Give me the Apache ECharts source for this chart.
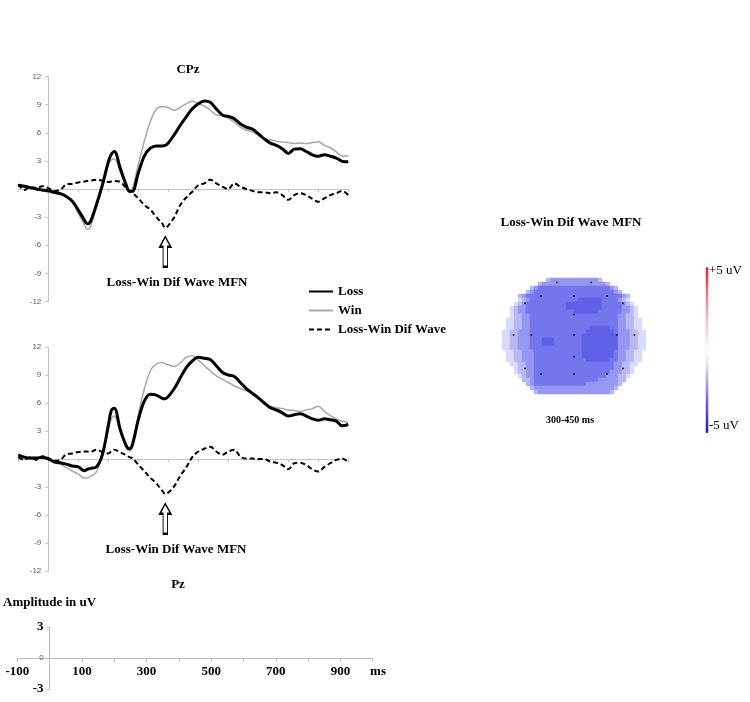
<!DOCTYPE html>
<html>
<head>
<meta charset="utf-8">
<script src="https://cdn.jsdelivr.net/npm/echarts@6/dist/echarts.min.js"></script>
<style>
html,body{margin:0;padding:0;background:#fff;}
#chart{width:750px;height:702px;}
</style>
</head>
<body>
<div id="chart"></div>
<script>
// ---------- data ----------
const timesMs = [-100,-80,-60,-40,-20,0,20,40,60,80,100,120,130,140,160,180,200,210,220,240,260,270,280,300,320,340,360,380,390,400,420,440,460,480,500,520,540,560,580,600,620,640,660,680,700,720,740,760,780,800,820,840,860,880,900,920,940,960,980,1000];

const cpzLoss = [0.4,0.3,0.15,0.0,-0.1,-0.2,-0.35,-0.5,-0.8,-1.3,-2.25,-3.3,-3.7,-3.5,-1.7,0.4,2.9,3.7,4.0,2.2,0.4,-0.25,-0.25,1.7,3.5,4.35,4.6,4.6,4.65,4.9,5.8,6.8,7.7,8.55,9.1,9.4,9.25,8.55,7.9,7.75,7.5,6.95,6.6,6.4,5.9,5.35,4.9,4.65,4.3,3.8,4.25,4.3,4.0,3.65,3.5,3.65,3.5,3.3,2.95,2.9];
const cpzWin = [0.3,0.2,0.1,-0.05,-0.2,-0.35,-0.45,-0.55,-0.8,-1.4,-2.6,-3.8,-4.3,-4.1,-2.0,0.2,2.5,3.1,3.2,1.8,0.2,-0.3,0.0,2.6,5.1,7.2,8.5,8.8,8.75,8.7,8.4,8.7,9.1,9.35,9.1,8.85,8.4,7.9,7.8,7.55,7.15,6.6,6.3,6.1,5.7,5.35,5.25,5.1,5.0,4.95,4.85,4.9,4.85,4.95,5.05,4.65,4.4,3.95,3.5,3.55];
const cpzDif = [0.5,-0.1,0.2,0.1,0.3,0.1,-0.2,-0.1,0.5,0.55,0.7,0.8,0.85,0.9,1.0,0.9,0.75,0.8,0.85,0.75,0.1,-0.2,-0.4,-1.0,-1.7,-2.2,-3.0,-3.7,-4.15,-3.9,-3.0,-1.7,-0.9,-0.3,0.4,0.6,1.0,0.6,0.25,0.0,0.6,0.25,0.0,-0.2,-0.35,-0.35,-0.45,-0.35,-0.65,-1.15,-0.65,-0.45,-0.65,-1.05,-1.35,-1.0,-0.65,-0.45,-0.2,-0.65];

const pzLoss = [0.45,0.2,0.1,0.1,0.2,0.0,-0.3,-0.4,-0.55,-0.75,-0.85,-1.25,-1.1,-1.0,-0.85,0.45,3.6,5.2,5.45,3.15,1.4,1.1,1.5,4.2,6.2,6.95,6.85,6.5,6.45,6.7,7.55,8.7,9.8,10.5,10.9,10.8,10.65,10.0,9.3,9.0,8.85,8.2,7.55,7.05,6.55,6.0,5.5,5.25,4.95,4.6,4.75,4.85,4.6,4.3,4.15,4.3,4.2,4.05,3.55,3.7];
const pzWin = [0.4,0.1,0.0,0.1,0.15,-0.05,-0.4,-0.55,-0.9,-1.3,-1.6,-2.05,-2.0,-1.9,-1.4,0.3,3.1,4.3,4.6,2.8,1.2,0.85,1.3,4.75,7.5,9.45,10.2,10.35,10.2,10.1,9.9,10.3,10.9,11.05,10.6,10.0,9.45,8.9,8.55,8.2,7.85,7.55,7.3,6.95,6.55,5.95,5.65,5.5,5.4,5.25,5.2,5.1,5.25,5.4,5.65,5.1,4.65,4.3,4.05,3.95];
const pzDif = [0.2,-0.1,0.2,-0.1,0.3,0.1,-0.2,-0.1,0.5,0.6,0.75,0.8,0.8,0.75,1.0,0.75,0.6,0.8,1.0,0.7,0.4,0.2,0.1,-0.6,-1.3,-2.0,-2.6,-3.4,-3.75,-3.6,-2.9,-1.8,-0.9,0.2,0.8,1.1,1.3,0.8,0.45,0.8,1.0,0.25,0.05,0.05,0.0,0.0,-0.3,-0.4,-0.65,-1.1,-0.45,-0.4,-0.65,-1.1,-1.35,-0.85,-0.45,-0.1,0.05,-0.4];

const erpTicksUv = [-12, 12, 3];            // min, max, step of the ERP amplitude axes
const scaleTickLabelsMs = [-100, 100, 300, 500, 700, 900];
const scaleTicksUv = [-3, 0, 3];

// MFN arrow anchors (ms, uV)
const arrowMs = 390;
const cpzArrowUv = -6.7;
const pzArrowUv = -6.4;

// topographic map: level per 4px cell (0 = outside the head), rows centred
const topoLevelUv = [null, -1.0, -1.6, -2.2, -2.8, -3.0, -3.25];
const topoCols = 36;
const topoRows = [
  "23333333333332",
  "233333333333333332",
  "2344444444444444444432",
  "234444444444444444444432",
  "2344444444444444444444444432",
  "1234444444444446666664444321",
  "123444444444466666666644444321",
  "12334444444444666666666444443321",
  "12334444444444446666664444443321",
  "12233444444444444444444444433221",
  "1122334444444444444444444444332211",
  "1122334444444444444444444444332211",
  "1122334444444444444446666644332211",
  "112233344444444444444666666643332211",
  "112233344444444444446666666663332211",
  "112233344466644444446666666663332211",
  "112233344466644444446666666663332211",
  "112233344444444444446666666663332211",
  "1122333444444444444666666664332211",
  "1122333444444444444666666664332211",
  "1122333444444444444466666644332211",
  "11223344444444444444444444332211",
  "122334444444444444444444433221",
  "122334444444444444444444333221",
  "1233444444444444444444333221",
  "22344444444444444443333322",
  "234444444444444333333332",
  "2333333333333333333332",
  "23333333333333333332"
];
const electrodePos = [
  [13.7,1.1],[22.3,1.1],
  [9.75,4.5],[18,4.5],[26.25,4.5],
  [5.75,6.3],[30.25,6.3],
  [18,9.1],
  [2.9,14.25],[7.3,14.25],[18,14.25],[28.7,14.25],[33.1,14.25],
  [18,19.7],
  [5.75,22.6],[30.25,22.6],
  [9.75,24],[18,24],[26.25,24]
];
const colorbarUv = [-5, 5];

// ---------- build ----------
const serif = "'Liberation Serif','Times New Roman',serif";
const sans = "'Liberation Sans',Arial,sans-serif";
const pairs = arr => timesMs.map((t, i) => [t, arr[i]]);

const heatData = [];
topoRows.forEach((row, r) => {
  const pad = Math.floor((topoCols - row.length) / 2);
  for (let i = 0; i < row.length; i++) {
    const lv = +row[i];
    if (lv > 0) heatData.push([pad + i, r, topoLevelUv[lv]]);
  }
});
const catX = Array.from({length: topoCols}, (_, i) => i);
const catY = Array.from({length: topoRows.length}, (_, i) => i);

const arrowPath = 'path://M5,0L10,10L7,10L7,30L3,30L3,10L0,10Z';

// ERP plots: -100..1000 ms over 330 px, so the 0 ms axis sits 30 px right of the grid edge
const erpGridW = 330;
const erpAxisShift = erpGridW * 100 / 1100;
const scaleGridW = 355.4;
const scaleAxisShift = scaleGridW * 100 / 1100;

function erpXAxis(gi) {
  return {
    gridIndex: gi, type: 'value', min: -100, max: 1000, interval: 100,
    axisLine: {onZero: true, lineStyle: {color: '#c4c4c4', width: 1}},
    axisTick: {show: true, length: 3, lineStyle: {color: '#c4c4c4'}},
    axisLabel: {show: false}, splitLine: {show: false}
  };
}
function erpYAxis(gi) {
  return {
    gridIndex: gi, type: 'value', min: erpTicksUv[0], max: erpTicksUv[1], interval: erpTicksUv[2],
    offset: -erpAxisShift,
    axisLine: {show: true, onZero: false, lineStyle: {color: '#c4c4c4', width: 1}},
    axisTick: {show: true, length: 3, lineStyle: {color: '#c4c4c4'}},
    axisLabel: {fontSize: 8, color: '#595959', fontFamily: sans, margin: 7,
      formatter: v => (v === 0 ? '' : String(v))},
    splitLine: {show: false}
  };
}
function lossSeries(name, xi, data) {
  return {name, type: 'line', xAxisIndex: xi, yAxisIndex: xi, data: pairs(data),
    symbol: 'none', smooth: 0.35, lineStyle: {color: '#000', width: 3}, itemStyle: {color: '#000'}, z: 3, silent: true};
}
function winSeries(name, xi, data) {
  return {name, type: 'line', xAxisIndex: xi, yAxisIndex: xi, data: pairs(data),
    symbol: 'none', smooth: 0.35, lineStyle: {color: '#a8a8a8', width: 1.5}, itemStyle: {color: '#a8a8a8'}, z: 2, silent: true};
}
function difSeries(name, xi, data, arrowUv) {
  return {name, type: 'line', xAxisIndex: xi, yAxisIndex: xi, data: pairs(data),
    symbol: 'none', smooth: 0.35, lineStyle: {color: '#000', width: 2, type: [5, 3]}, itemStyle: {color: '#000'}, z: 4, silent: true,
    markPoint: {silent: true, symbol: arrowPath, symbolSize: [11, 30], symbolKeepAspect: false,
      itemStyle: {color: '#fff', borderColor: '#000', borderWidth: 1.5},
      label: {show: false}, data: [{coord: [arrowMs, arrowUv]}]}};
}

const boldText = (text, x, y, size) => ({type: 'text', x, y, silent: true,
  style: {text, fill: '#000', font: 'bold ' + size + 'px ' + serif, textAlign: 'center', textVerticalAlign: 'middle'}});
const plainText = (text, x, y, size) => ({type: 'text', x, y, silent: true,
  style: {text, fill: '#000', font: size + 'px ' + serif, textAlign: 'left', textVerticalAlign: 'middle'}});

const option = {
  backgroundColor: '#fff',
  animation: false,
  grid: [
    {left: 18.3, top: 76.5, width: erpGridW, height: 225},
    {left: 18.3, top: 347, width: erpGridW, height: 224},
    {left: 17.3, top: 627, width: scaleGridW, height: 62},
    {left: 502, top: 278, width: 144, height: 116},
    {left: 502, top: 278, width: 144, height: 116}
  ],
  xAxis: [
    erpXAxis(0), erpXAxis(1),
    {gridIndex: 2, type: 'value', min: -100, max: 1000, interval: 100,
      offset: -31,
      axisLine: {onZero: false, lineStyle: {color: '#bdbdbd'}},
      axisTick: {show: true, length: 4, lineStyle: {color: '#bdbdbd'}},
      axisLabel: {fontSize: 13, fontWeight: 'bold', color: '#000', fontFamily: serif, margin: 7,
        showMinLabel: true, showMaxLabel: true,
        formatter: v => (scaleTickLabelsMs.indexOf(v) >= 0 ? String(v) : '')},
      splitLine: {show: false}},
    {gridIndex: 3, type: 'category', data: catX, show: false},
    {gridIndex: 4, type: 'value', min: 0, max: topoCols, show: false}
  ],
  yAxis: [
    erpYAxis(0), erpYAxis(1),
    {gridIndex: 2, type: 'value', min: scaleTicksUv[0], max: scaleTicksUv[2], interval: 3,
      offset: -scaleAxisShift,
      name: 'Amplitude in uV', nameLocation: 'end', nameGap: 18,
      nameTextStyle: {fontFamily: serif, fontWeight: 'bold', fontSize: 13, color: '#000'},
      axisLine: {show: true, onZero: false, lineStyle: {color: '#bdbdbd'}},
      axisTick: {show: true, length: 3, lineStyle: {color: '#bdbdbd'}},
      axisLabel: {margin: 6, formatter: v => (v === 0 ? '{s|0}' : '{b|' + v + '}'),
        rich: {s: {fontSize: 8, color: '#595959', fontFamily: sans},
               b: {fontSize: 13, fontWeight: 'bold', color: '#000', fontFamily: serif}}},
      splitLine: {show: false}},
    {gridIndex: 3, type: 'category', data: catY, inverse: true, show: false},
    {gridIndex: 4, type: 'value', min: 0, max: topoRows.length, inverse: true, show: false}
  ],
  legend: {
    orient: 'vertical', left: 308, top: 285, padding: 0,
    itemWidth: 24, itemHeight: 14, itemGap: 6,
    itemStyle: {opacity: 0},
    data: ['Loss', 'Win', 'Loss-Win Dif Wave'],
    textStyle: {fontFamily: serif, fontWeight: 'bold', fontSize: 13, color: '#000'},
    selectedMode: false
  },
  visualMap: {
    type: 'continuous', seriesIndex: 6, min: colorbarUv[0], max: colorbarUv[1],
    orient: 'vertical', left: 705.5, top: 267, itemWidth: 3, itemHeight: 166,
    padding: 0, calculable: false, hoverLink: false, show: true,
    inRange: {color: ['#1c1ca6','#4444d6','#6a6aec','#a2a2f2','#dadafa','#ffffff','#f9dde0','#f3b8be','#ec8f98','#e45a68','#da2035']}
  },
  graphic: [
    boldText('CPz', 188, 70, 13),
    boldText('Loss-Win Dif Wave MFN', 177, 283, 13),
    boldText('Loss-Win Dif Wave MFN', 176, 550, 13),
    boldText('Pz', 178, 585, 13),
    boldText('ms', 378, 672, 13),
    boldText('Loss-Win Dif Wave MFN', 571, 223, 13),
    boldText('300-450 ms', 570, 420, 10),
    plainText('+5 uV', 709, 271, 13),
    plainText('-5 uV', 709, 426, 13)
  ],
  series: [
    winSeries('Win', 0, cpzWin),
    lossSeries('Loss', 0, cpzLoss),
    difSeries('Loss-Win Dif Wave', 0, cpzDif, cpzArrowUv),
    winSeries('Win', 1, pzWin),
    lossSeries('Loss', 1, pzLoss),
    difSeries('Loss-Win Dif Wave', 1, pzDif, pzArrowUv),
    {type: 'heatmap', xAxisIndex: 3, yAxisIndex: 3, data: heatData, silent: true, progressive: 0,
      itemStyle: {borderWidth: 0}},
    {type: 'scatter', xAxisIndex: 4, yAxisIndex: 4, data: electrodePos, symbol: 'circle', symbolSize: 2,
      itemStyle: {color: '#000'}, silent: true, z: 5}
  ]
};

const chart = echarts.init(document.getElementById('chart'), null, {renderer: 'canvas'});
chart.setOption(option);
</script>
</body>
</html>
